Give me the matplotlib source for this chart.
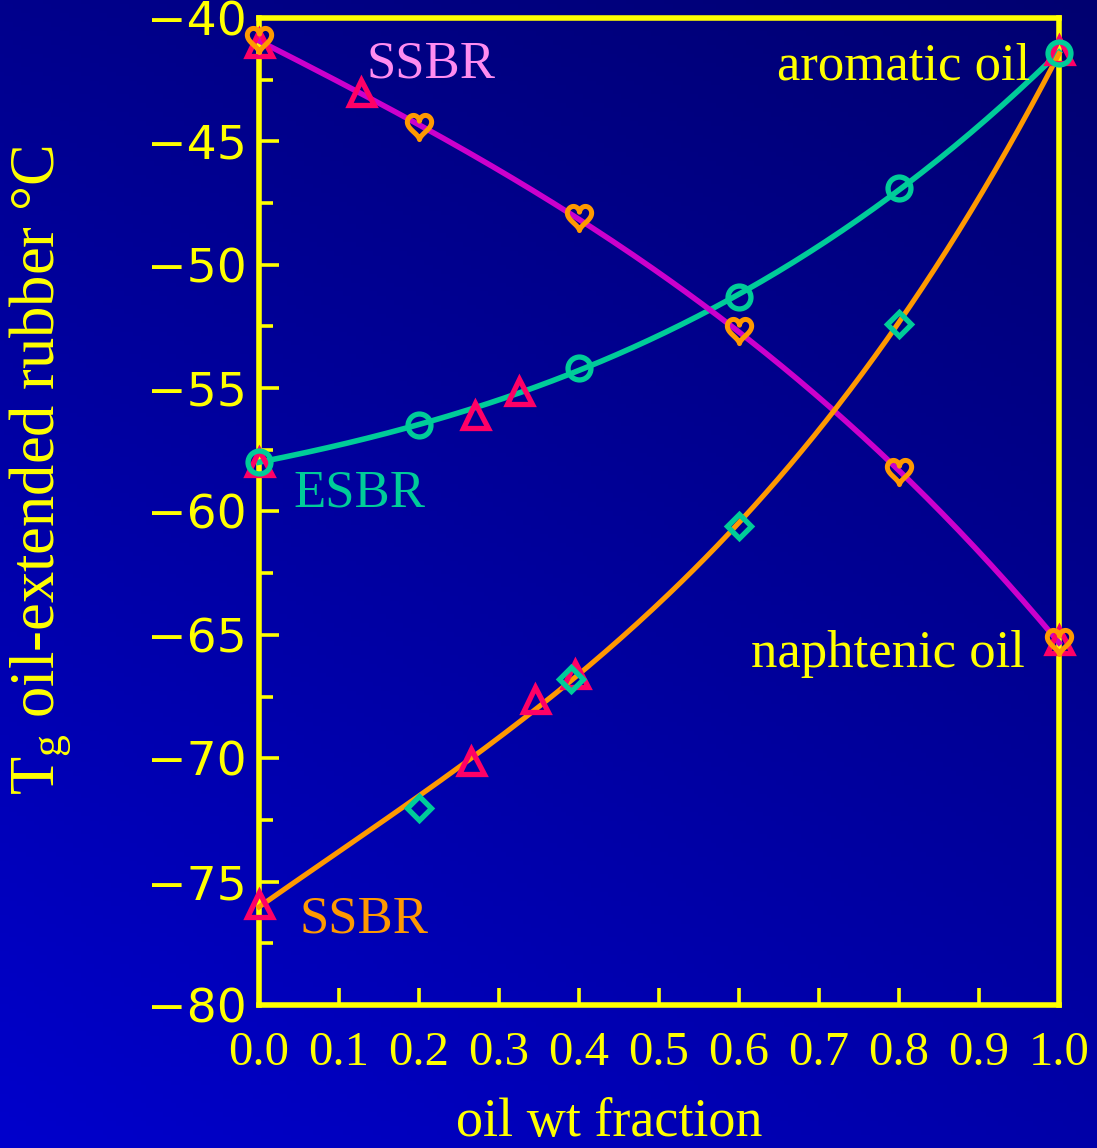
import numpy as np
import matplotlib.pyplot as plt
from matplotlib.path import Path
from matplotlib.ticker import MultipleLocator, FormatStrFormatter

plt.rcParams['mathtext.fontset'] = 'custom'
plt.rcParams['mathtext.rm'] = 'Liberation Serif'
plt.rcParams['mathtext.it'] = 'Liberation Serif:italic'

# SSBR + naphtenic oil
ssbr_naph_x = [0.0, 0.2, 0.4, 0.6, 0.8, 1.0]
ssbr_naph_tg = [-40.9, -44.4, -48.1, -52.7, -58.4, -65.3]
ssbr_naph_tri_x = [0.0, 0.128, 1.0]
ssbr_naph_tri_tg = [-41.0, -43.0, -65.2]

# ESBR + aromatic oil
esbr_arom_x = [0.0, 0.2, 0.4, 0.6, 0.8, 1.0]
esbr_arom_tg = [-58.0, -56.5, -54.2, -51.3, -46.9, -41.4]
esbr_arom_tri_x = [0.0, 0.27, 0.325, 1.0]
esbr_arom_tri_tg = [-58.0, -56.1, -55.1, -41.3]

# SSBR + aromatic oil
ssbr_arom_tri_x = [0.0, 0.265, 0.345, 0.395]
ssbr_arom_tri_tg = [-75.9, -70.1, -67.6, -66.6]
ssbr_arom_dia_x = [0.2, 0.39, 0.6, 0.8]
ssbr_arom_dia_tg = [-72.0, -66.8, -60.6, -52.4]

YELLOW = '#FFFF00'
MAGENTA = '#CC00CC'
ORANGE = '#FF9900'
TEAL = '#00CC99'
PINK = '#FF0066'

# heart shaped marker
t = np.linspace(0, 2 * np.pi, 120)
hx = 16 * np.sin(t) ** 3
hy = 1.1 * (13 * np.cos(t) - 5 * np.cos(2 * t) - 2 * np.cos(3 * t) - np.cos(4 * t))
hy = hy - (hy.max() + hy.min()) / 2
heart = Path(np.column_stack([hx, hy]), closed=True)

fig = plt.figure(figsize=(10.97, 11.48), dpi=100)

# blue gradient backdrop
bg = fig.add_axes([0, 0, 1, 1], zorder=-10)
u = np.linspace(0, 1, 256)
gx, gy = np.meshgrid(u, u)
top = 0x8C * (1 - gx) + 0x70 * gx
bot = 0xCC * (1 - gx) + 0xA8 * gx
img = np.zeros((256, 256, 3))
img[..., 2] = (top * (1 - gy) + bot * gy) / 255
bg.imshow(img, aspect='auto', extent=[0, 1, 0, 1], origin='upper')
bg.axis('off')

ax = fig.add_axes([0.2361, 0.1246, 0.7293, 0.8597])
ax.set_facecolor('none')

# smooth fitted curves
xs = np.linspace(0, 1, 200)
fit_esbr = np.polyfit(esbr_arom_x, esbr_arom_tg, 3)
fit_naph = np.polyfit(ssbr_naph_x, ssbr_naph_tg, 3)
arom_x = ssbr_arom_tri_x + ssbr_arom_dia_x + [1.0]
arom_tg = ssbr_arom_tri_tg + ssbr_arom_dia_tg + [esbr_arom_tg[-1]]
fit_arom = np.polyfit(arom_x, arom_tg, 3)

ax.plot(xs, np.polyval(fit_esbr, xs), color=TEAL, lw=4, zorder=3, clip_on=False)
ax.plot(xs, np.polyval(fit_naph, xs), color=MAGENTA, lw=4, zorder=3.1, clip_on=False)
ax.plot(xs, np.polyval(fit_arom, xs), color=ORANGE, lw=3.7, zorder=3.2, clip_on=False)

tri = dict(marker='^', ls='none', ms=18, mfc='none', mec=PINK, mew=3.8, zorder=4, clip_on=False)
ax.plot(ssbr_naph_tri_x, ssbr_naph_tri_tg, **tri)
ax.plot(esbr_arom_tri_x, esbr_arom_tri_tg, **tri)
ax.plot(ssbr_arom_tri_x, ssbr_arom_tri_tg, **tri)

ax.plot(ssbr_naph_x, ssbr_naph_tg, marker=heart, ls='none', ms=17.5, mfc='none',
        mec=ORANGE, mew=3.6, zorder=5, clip_on=False)
ax.plot(esbr_arom_x, esbr_arom_tg, marker='o', ls='none', ms=16.5, mfc='none',
        mec=TEAL, mew=3.8, zorder=5, clip_on=False)
ax.plot(ssbr_arom_dia_x, ssbr_arom_dia_tg, marker='D', ls='none', ms=12.5, mfc='none',
        mec=TEAL, mew=3.8, zorder=5, clip_on=False)

serif = 'Liberation Serif'
ax.text(0.215, -42.4, 'SSBR', color='#FF8CF0', fontsize=38, family=serif, ha='center', va='baseline')
ax.text(0.964, -42.5, 'aromatic oil', color=YELLOW, fontsize=38, family=serif, ha='right', va='baseline')
ax.text(0.043, -59.8, 'ESBR', color=TEAL, fontsize=38, family=serif, ha='left', va='baseline')
ax.text(0.9575, -66.3, 'naphtenic oil', color=YELLOW, fontsize=38, family=serif, ha='right', va='baseline')
ax.text(0.051, -77.05, 'SSBR', color=ORANGE, fontsize=38, family=serif, ha='left', va='baseline')

ax.set_xlim(0, 1)
ax.set_ylim(-80, -40)
ax.xaxis.set_major_locator(MultipleLocator(0.1))
ax.xaxis.set_major_formatter(FormatStrFormatter('%.1f'))
ax.yaxis.set_major_locator(MultipleLocator(5))
ax.yaxis.set_minor_locator(MultipleLocator(2.5))

for s in ax.spines.values():
    s.set_color(YELLOW)
    s.set_linewidth(4)
    s.set_zorder(2.5)

ax.tick_params(axis='y', which='major', direction='in', length=14.5, width=2.6,
               color=YELLOW, labelcolor=YELLOW, labelsize=34, pad=9)
ax.tick_params(axis='y', which='minor', direction='in', length=10, width=2.6, color=YELLOW)
ax.tick_params(axis='x', which='major', direction='in', length=12, width=2.6,
               color=YELLOW, labelcolor=YELLOW, labelsize=35, pad=19)
for lab in ax.get_xticklabels():
    lab.set_family(serif)

fig.text(0.0365, 0.5906, r'T$_{\rm g}$ oil-extended rubber °C', rotation=90,
         color=YELLOW, fontsize=45, family=serif, ha='center', va='center')
fig.text(0.555, 0.0, 'oil wt fraction', color=YELLOW, fontsize=39, family=serif,
         ha='center', va='bottom')

fig.savefig('out.png', dpi=100)
